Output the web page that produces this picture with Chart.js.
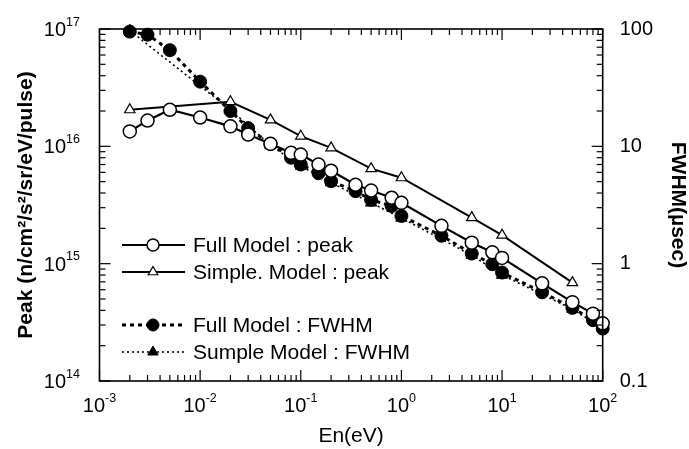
<!DOCTYPE html>
<html>
<head>
<meta charset="utf-8">
<script src="https://cdn.jsdelivr.net/npm/chart.js@4.4.0/dist/chart.umd.min.js"></script>
<style>
  html, body { margin: 0; padding: 0; background: #fff; }
</style>
</head>
<body>
<canvas id="chart" width="689" height="449"></canvas>
<script>
const FONT = '"Liberation Sans", Arial, sans-serif';

// energies (eV)
const energyFull = [0.002, 0.003, 0.005, 0.01, 0.02, 0.03, 0.05, 0.08, 0.1, 0.15, 0.2, 0.35, 0.5, 0.8, 1, 2.5, 5, 8, 10, 25, 50, 80, 100];
const energySimple = [0.002, 0.02, 0.05, 0.1, 0.2, 0.5, 1, 5, 10, 50];
const energySimpleFwhm = [0.002, 0.02, 0.05, 0.1, 0.2, 0.5, 1, 5, 10, 50, 100];

// peak (n/cm2/s2/sr/eV/pulse)
const peakFull = [1.34e16, 1.66e16, 2.05e16, 1.76e16, 1.48e16, 1.26e16, 1.05e16, 8.8e15, 8.5e15, 7.0e15, 6.2e15, 4.7e15, 4.2e15, 3.65e15, 3.3e15, 2.1e15, 1.51e15, 1.25e15, 1.12e15, 6.8e14, 4.7e14, 3.75e14, 3.1e14];
const peakSimple = [2.05e16, 2.4e16, 1.68e16, 1.22e16, 9.7e15, 6.45e15, 5.4e15, 2.47e15, 1.75e15, 6.9e14];

// FWHM (usec)
const fwhmFull = [95, 89.5, 66, 35.6, 20, 14.3, 10.5, 8.0, 7.0, 5.9, 5.05, 4.15, 3.5, 3.1, 2.55, 1.73, 1.22, 0.99, 0.84, 0.57, 0.42, 0.33, 0.28];
const fwhmSimple = [97, 20.5, 10.2, 6.8, 4.9, 3.3, 2.45, 1.18, 0.8, 0.41, 0.28];

// axis ticks
const xTickExps = [-3, -2, -1, 0, 1, 2];
const yTickExps = [14, 15, 16, 17];
const y2TickLabels = ["0.1", "1", "10", "100"];

const legendLabels = ["Full Model : peak", "Simple. Model : peak", "Full Model : FWHM", "Sumple Model : FWHM"];

function pts(xs, ys) {
  return xs.map((x, i) => ({ x: x, y: ys[i] }));
}

function logTicks(lo, hi) {
  const out = [];
  for (let e = lo; e <= hi; e++) {
    for (let m = 1; m <= 9; m++) {
      if (e === hi && m > 1) break;
      out.push({ value: m * Math.pow(10, e) });
    }
  }
  return out;
}

function isDecade(v) {
  const l = Math.log10(v);
  return Math.abs(l - Math.round(l)) < 1e-6;
}

const datasets = [
  {
    label: legendLabels[0],
    data: pts(energyFull, peakFull),
    yAxisID: "y",
    borderColor: "#000",
    borderWidth: 2.2,
    pointStyle: "circle",
    pointRadius: 6.5,
    pointBackgroundColor: "#fff",
    pointBorderColor: "#000",
    pointBorderWidth: 1.5
  },
  {
    label: legendLabels[1],
    data: pts(energySimple, peakSimple),
    yAxisID: "y",
    borderColor: "#000",
    borderWidth: 2,
    pointStyle: "triangle",
    pointRadius: 6,
    pointBackgroundColor: "#fff",
    pointBorderColor: "#000",
    pointBorderWidth: 1.2
  },
  {
    label: legendLabels[2],
    data: pts(energyFull, fwhmFull),
    yAxisID: "y2",
    borderColor: "#000",
    borderWidth: 3,
    borderDash: [4, 4],
    pointStyle: "circle",
    pointRadius: 6.5,
    pointBackgroundColor: "#000",
    pointBorderColor: "#000",
    pointBorderWidth: 1
  },
  {
    label: legendLabels[3],
    data: pts(energySimpleFwhm, fwhmSimple),
    yAxisID: "y2",
    borderColor: "#000",
    borderWidth: 1.6,
    borderDash: [2, 3],
    pointStyle: "triangle",
    pointRadius: 6.5,
    pointBackgroundColor: "#000",
    pointBorderColor: "#000",
    pointBorderWidth: 1
  }
];
datasets.forEach(d => { d.tension = 0; d.fill = false; d.clip = false; });

function drawPow(ctx, exp, x, y, align) {
  const base = "10", sup = String(exp);
  ctx.font = "20px " + FONT;
  const wb = ctx.measureText(base).width;
  ctx.font = "12.5px " + FONT;
  const ws = ctx.measureText(sup).width;
  const x0 = align === "center" ? x - (wb + ws) / 2 : x - (wb + ws);
  ctx.textAlign = "left";
  ctx.textBaseline = "alphabetic";
  ctx.font = "20px " + FONT;
  ctx.fillText(base, x0, y + 7);
  ctx.font = "12.5px " + FONT;
  ctx.fillText(sup, x0 + wb, y - 3.5);
}

const framePlugin = {
  id: "frame",
  afterDraw(chart) {
    const { ctx, chartArea: a, scales } = chart;
    ctx.save();
    ctx.strokeStyle = "#000";
    ctx.fillStyle = "#000";
    ctx.lineWidth = 1.6;
    ctx.strokeRect(a.left, a.top, a.right - a.left, a.bottom - a.top);

    ctx.lineWidth = 1.2;
    const seg = (x1, y1, x2, y2) => {
      ctx.beginPath(); ctx.moveTo(x1, y1); ctx.lineTo(x2, y2); ctx.stroke();
    };
    scales.x.ticks.forEach(t => {
      const px = scales.x.getPixelForValue(t.value);
      const len = isDecade(t.value) ? 11 : 6;
      seg(px, a.bottom, px, a.bottom - len);
      seg(px, a.top, px, a.top + len);
    });
    scales.y.ticks.forEach(t => {
      const py = scales.y.getPixelForValue(t.value);
      seg(a.left, py, a.left + (isDecade(t.value) ? 11 : 6), py);
    });
    scales.y2.ticks.forEach(t => {
      const py = scales.y2.getPixelForValue(t.value);
      seg(a.right, py, a.right - (isDecade(t.value) ? 11 : 6), py);
    });

    // decade labels
    xTickExps.forEach(e => {
      drawPow(ctx, e, scales.x.getPixelForValue(Math.pow(10, e)), 405, "center");
    });
    yTickExps.forEach(e => {
      drawPow(ctx, e, 80, scales.y.getPixelForValue(Math.pow(10, e)), "right");
    });

    // legend
    const rows = [245, 272, 325, 352];
    ctx.font = "21px " + FONT;
    ctx.textBaseline = "middle";
    ctx.textAlign = "left";
    chart.data.datasets.forEach((d, i) => {
      const y = rows[i];
      ctx.strokeStyle = "#000";
      ctx.lineWidth = d.borderWidth;
      ctx.setLineDash(d.borderDash || []);
      seg(122, y, 185, y);
      ctx.setLineDash([]);
      ctx.fillStyle = d.pointBackgroundColor;
      ctx.strokeStyle = d.pointBorderColor;
      ctx.lineWidth = d.pointBorderWidth;
      Chart.helpers.drawPoint(ctx, { pointStyle: d.pointStyle, radius: d.pointRadius - 0.5, rotation: 0, borderWidth: d.pointBorderWidth }, 153, y);
      ctx.fillStyle = "#000";
      ctx.fillText(d.label, 193, y + 1);
    });
    ctx.restore();
  }
};

new Chart(document.getElementById("chart"), {
  type: "line",
  data: { datasets: datasets },
  plugins: [framePlugin],
  options: {
    responsive: false,
    animation: false,
    layout: { padding: { top: 26.7, left: 0, right: 0, bottom: 0 } },
    plugins: { legend: { display: false }, tooltip: { enabled: false } },
    scales: {
      x: {
        type: "logarithmic",
        position: "bottom",
        min: 1e-3,
        max: 1e2,
        grid: { display: false, drawTicks: false },
        border: { display: false },
        ticks: { display: false },
        afterBuildTicks: s => { s.ticks = logTicks(-3, 2); },
        afterFit: s => { s.height = 68; },
        title: {
          display: true,
          text: "En(eV)",
          color: "#000",
          font: { family: FONT, size: 21, lineHeight: 1 },
          padding: { top: 0, bottom: 2 }
        }
      },
      y: {
        type: "logarithmic",
        position: "left",
        min: 1e14,
        max: 1e17,
        grid: { display: false, drawTicks: false },
        border: { display: false },
        ticks: { display: false },
        afterBuildTicks: s => { s.ticks = logTicks(14, 17); },
        afterFit: s => { s.width = 99.5; },
        title: {
          display: true,
          text: "Peak (n/cm\u00b2/s\u00b2/sr/eV/pulse)",
          color: "#000",
          font: { family: FONT, size: 21, weight: "bold", lineHeight: 1 },
          padding: { top: 16, bottom: 0 }
        }
      },
      y2: {
        type: "logarithmic",
        position: "right",
        min: 0.1,
        max: 100,
        grid: { display: false, drawTicks: false },
        border: { display: false },
        afterBuildTicks: s => { s.ticks = logTicks(-1, 2); },
        afterFit: s => { s.width = 86.3; },
        ticks: {
          autoSkip: false,
          padding: 17,
          color: "#000",
          font: { family: FONT, size: 20 },
          callback: v => {
            if (!isDecade(v)) return "";
            return y2TickLabels[Math.round(Math.log10(v)) + 1];
          }
        },
        title: {
          display: true,
          text: "FWHM(\u00b5sec)",
          color: "#000",
          font: { family: FONT, size: 21, weight: "bold", lineHeight: 1 },
          padding: { top: 1, bottom: 0 }
        }
      }
    }
  }
});
</script>
</body>
</html>
